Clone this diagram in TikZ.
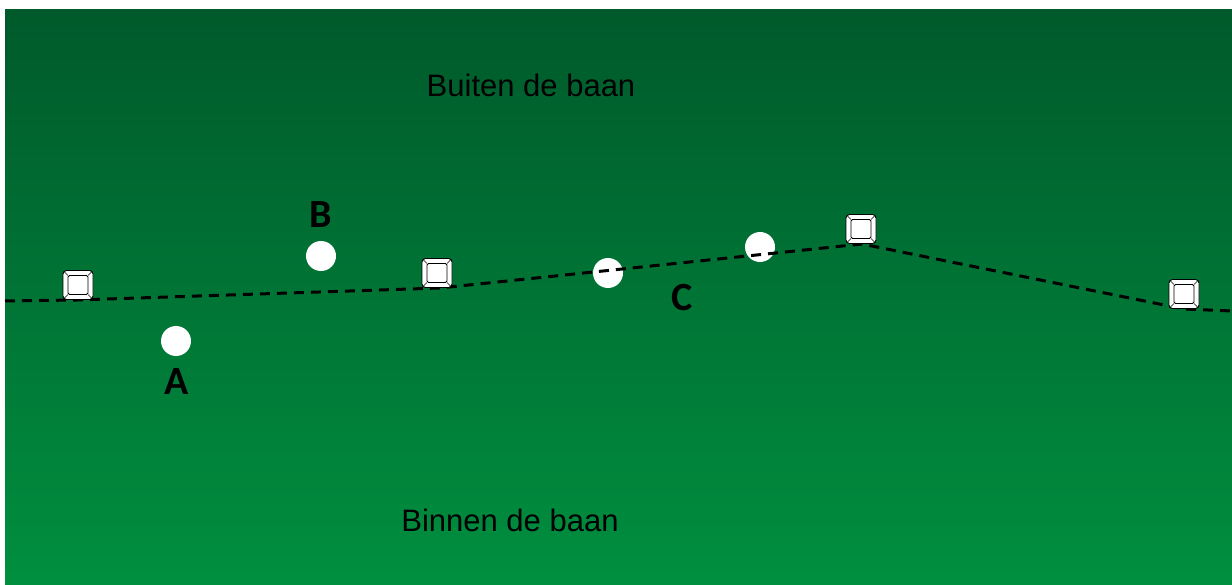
\documentclass[tikz,border=0pt]{standalone}
\usepackage{fontspec}
\setmainfont{Liberation Sans}
\newfontfamily\lblfont{Carlito}
\definecolor{grtop}{HTML}{005A2B}
\definecolor{grbot}{HTML}{008F3F}
\begin{document}
\begin{tikzpicture}[x=1pt,y=-1pt,
  hoop/.style={draw=black, line width=0.9pt, fill=white, rounded corners=3.5pt,
    minimum width=30pt, minimum height=29pt, inner sep=0pt,
    path picture={
      \draw[line width=0.8pt,rounded corners=1.5pt]
        ([shift={(5pt,5pt)}]path picture bounding box.south west) rectangle
        ([shift={(-5pt,-5pt)}]path picture bounding box.north east);
      \draw[line width=0.6pt]
        ([shift={(1pt,1pt)}]path picture bounding box.south west) -- ([shift={(5pt,5pt)}]path picture bounding box.south west)
        ([shift={(-1pt,1pt)}]path picture bounding box.south east) -- ([shift={(-5pt,5pt)}]path picture bounding box.south east)
        ([shift={(1pt,-1pt)}]path picture bounding box.north west) -- ([shift={(5pt,-5pt)}]path picture bounding box.north west)
        ([shift={(-1pt,-1pt)}]path picture bounding box.north east) -- ([shift={(-5pt,-5pt)}]path picture bounding box.north east);
    }},
  ball/.style={circle, fill=white, minimum size=30pt, inner sep=0pt},
  lbl/.style={font=\lblfont\bfseries\fontsize{40}{44}\selectfont, inner sep=0pt},
  zone/.style={font=\fontsize{31}{36}\selectfont, inner sep=0pt},
  track/.style={dash pattern=on 10pt off 7pt, line width=3pt, black}
]
\useasboundingbox (0,0) rectangle (1232,585);
\fill[white] (0,0) rectangle (1232,585);
\shade[top color=grtop, bottom color=grbot] (5,10) rectangle (1232,585);

\node[zone] (buiten) at (531,85) {Buiten de baan};
\node[zone] (binnen) at (510,520) {Binnen de baan};

\node[ball] (ballA) at (176,341) {};
\node[ball] (ballB) at (321,256) {};
\node[ball] (ballC1) at (608,273) {};
\node[ball] (ballC2) at (760,247) {};

\coordinate (s) at (5,301);
\coordinate (e) at (1232,311);
\coordinate (h1b) at (77,300);
\coordinate (h2b) at (440,288);
\coordinate (h3b) at (862,244);
\coordinate (h4b) at (1184,309);

\draw[track] (s) -- (h1b) -- (h2b) -- (h3b) -- (h4b) -- (e);

\node[hoop] (h1) at (78,285) {};
\node[hoop] (h2) at (437,273) {};
\node[hoop] (h3) at (861,229) {};
\node[hoop] (h4) at (1184,294) {};

\node[lbl] (lA) at (177,382) {A};
\node[lbl] (lB) at (321,215) {B};
\node[lbl] (lC) at (682,298) {C};
\end{tikzpicture}
\end{document}
